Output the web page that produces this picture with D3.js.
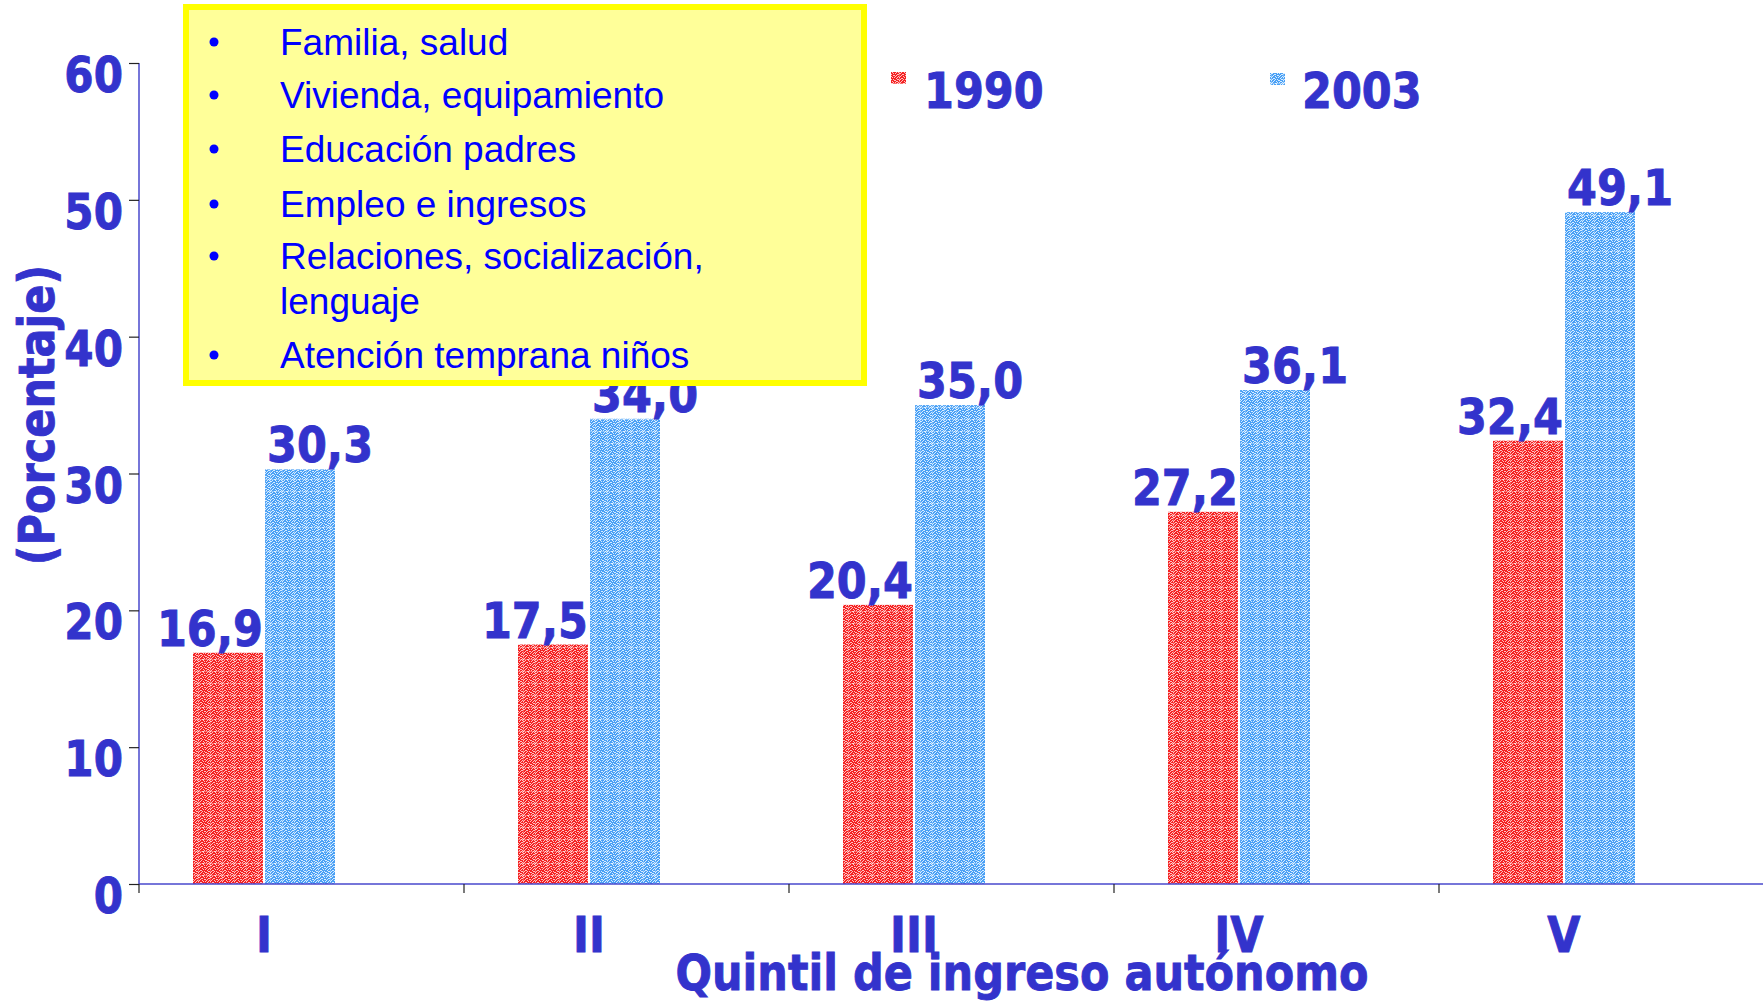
<!DOCTYPE html>
<html>
<head>
<meta charset="utf-8">
<script src="https://cdn.jsdelivr.net/npm/d3@7"></script>
<style>
  html, body { margin: 0; padding: 0; background: #ffffff; }
  svg { display: block; }
</style>
</head>
<body>
<svg id="chart" width="1763" height="1001"></svg>
<script>
// ---- data ----
const categories = ["I", "II", "III", "IV", "V"];
const seriesNames = ["1990", "2003"];
const values1990 = [16.9, 17.5, 20.4, 27.2, 32.4];
const values2003 = [30.3, 34.0, 35.0, 36.1, 49.1];
const yTickValues = [0, 10, 20, 30, 40, 50, 60];
const boxLines = [
  { bullet: true, text: "Familia, salud" },
  { bullet: true, text: "Vivienda, equipamiento" },
  { bullet: true, text: "Educación padres" },
  { bullet: true, text: "Empleo e ingresos" },
  { bullet: true, text: "Relaciones, socialización," },
  { bullet: false, text: "lenguaje" },
  { bullet: true, text: "Atención temprana niños" }
];
const xTitle = "Quintil de ingreso autónomo";
const yTitle = "(Porcentaje)";

// ---- styles ----
const LABEL_BLUE = "#3333cc";
const BOLD_FONT = "'DejaVu Sans', Verdana, sans-serif";
const SX = 0.86;

const svg = d3.select("#chart");

// speckle texture patterns for bars
const defs = svg.append("defs");
const speckle = [
  "010010001010",
  "100001010001",
  "001100000110",
  "010001101000",
  "100100010010",
  "000010100101",
  "011000001000",
  "100101000110",
  "001000110001",
  "010010001100",
  "100001010010",
  "000110000101"
];
function makePattern(id, base, light, line) {
  const p = defs.append("pattern").attr("id", id)
    .attr("patternUnits", "userSpaceOnUse").attr("width", 12).attr("height", 12);
  p.append("rect").attr("width", 12).attr("height", 12).attr("fill", base);
  speckle.forEach((row, r) => {
    row.split("").forEach((c, k) => {
      if (c === "1") p.append("rect").attr("x", k).attr("y", r).attr("width", 1).attr("height", 1).attr("fill", light);
    });
  });
  p.append("rect").attr("x", 0).attr("y", 11).attr("width", 12).attr("height", 1).attr("fill", line).attr("opacity", 0.35);
  p.append("rect").attr("x", 11).attr("y", 0).attr("width", 1).attr("height", 12).attr("fill", line).attr("opacity", 0.25);
}
makePattern("pat1990", "#f42222", "#ffc0c0", "#ffffff");
makePattern("pat2003", "#4aa0f5", "#d6ecff", "#ffffff");
const fills = { "1990": "url(#pat1990)", "2003": "url(#pat2003)" };

// ---- scales ----
const x = d3.scaleBand().domain(categories).range([139, 1764]).padding(0);
const inner = d3.scaleBand().domain(seriesNames).range([54, 196]).paddingInner(0.03);
const y = d3.scaleLinear().domain([0, 60]).range([884, 63]);

function stext(parent, px, py, str, size, anchor) {
  return parent.append("text")
    .attr("transform", `translate(${px},${py}) scale(${SX},1)`)
    .attr("text-anchor", anchor)
    .attr("font-family", BOLD_FONT)
    .attr("font-weight", "bold")
    .attr("font-size", size)
    .attr("fill", LABEL_BLUE)
    .attr("stroke", LABEL_BLUE)
    .attr("stroke-width", 0.9)
    .text(str);
}

// ---- bars ----
const data = categories.map((c, i) => ({ cat: c, vals: [
  { s: "1990", v: values1990[i] },
  { s: "2003", v: values2003[i] }
]}));

const groups = svg.append("g").selectAll("g").data(data).join("g")
  .attr("transform", d => `translate(${x(d.cat)},0)`);

groups.selectAll("rect").data(d => d.vals).join("rect")
  .attr("x", d => inner(d.s))
  .attr("y", d => y(d.v))
  .attr("width", inner.bandwidth())
  .attr("height", d => y(0) - y(d.v))
  .attr("fill", d => fills[d.s]);

// value labels
const fmt = v => d3.format(".1f")(v).replace(".", ",");
groups.each(function(d) {
  const g = d3.select(this);
  d.vals.forEach(vd => {
    const cx = inner(vd.s) + inner.bandwidth() / 2 + (vd.s === "1990" ? -18 : 20);
    stext(g, cx, y(vd.v) - 7, fmt(vd.v), 50, "middle");
  });
});

// ---- axes ----
const yAxis = svg.append("g").attr("transform", "translate(139,0)")
  .call(d3.axisLeft(y).tickValues(yTickValues).tickSize(10).tickFormat(""));
yAxis.select(".domain").attr("stroke", "#4848cc").attr("stroke-width", 1.5).attr("d", `M0,${y(60)}V${y(0)}`);
yAxis.selectAll(".tick line").attr("stroke", "#222").attr("stroke-width", 1.2);
yTickValues.forEach(t => {
  stext(svg, 123, y(t) + 29, String(t), 49, "end");
});

const xAxis = svg.append("g").attr("transform", `translate(0,${y(0)})`)
  .call(d3.axisBottom(x).tickSize(0).tickFormat(""));
xAxis.select(".domain").attr("stroke", "#4848cc").attr("stroke-width", 1.5).attr("d", "M139,0H1763");
xAxis.selectAll(".tick").remove();
// boundary tick marks between categories
const boundaries = categories.map(c => x(c) + x.step());
xAxis.selectAll("line.bt").data(boundaries).join("line").attr("class", "bt")
  .attr("x1", d => d).attr("x2", d => d).attr("y1", 0).attr("y2", 9)
  .attr("stroke", "#222").attr("stroke-width", 1.2);
xAxis.append("line").attr("x1", 139).attr("x2", 139).attr("y1", 0).attr("y2", 9)
  .attr("stroke", "#222").attr("stroke-width", 1.2);

// category labels
categories.forEach(c => {
  const cx = x(c) + (inner(seriesNames[0]) + inner(seriesNames[1]) + inner.bandwidth()) / 2;
  stext(svg, cx, 952, c, 50, "middle");
});

// axis titles
stext(svg, 1022, 990, xTitle, 50, "middle");
svg.append("text")
  .attr("transform", `translate(54,415) rotate(-90) scale(${SX},1)`)
  .attr("text-anchor", "middle")
  .attr("font-family", BOLD_FONT).attr("font-weight", "bold").attr("font-size", 50)
  .attr("fill", LABEL_BLUE).attr("stroke", LABEL_BLUE).attr("stroke-width", 0.9)
  .text(yTitle);

// ---- legend ----
const legendPos = [{ s: "1990", sq: 891, tx: 924, sy: 72 }, { s: "2003", sq: 1270, tx: 1302, sy: 73 }];
legendPos.forEach(l => {
  svg.append("rect").attr("x", l.sq).attr("y", l.sy).attr("width", 15).attr("height", 12).attr("fill", fills[l.s]);
  stext(svg, l.tx, 108, l.s, 50, "start");
});

// ---- yellow note box ----
const box = svg.append("g");
box.append("rect").attr("x", 186).attr("y", 7).attr("width", 678).attr("height", 376)
  .attr("fill", "#ffff99").attr("stroke", "#ffff00").attr("stroke-width", 6);
const lineBase = [55, 108, 162, 217, 269, 314, 368];
boxLines.forEach((l, i) => {
  if (l.bullet) {
    box.append("circle").attr("cx", 214).attr("cy", lineBase[i] - 13).attr("r", 4.5)
      .attr("fill", "#0000ff");
  }
  box.append("text").attr("x", 280).attr("y", lineBase[i])
    .attr("font-family", "'Liberation Sans', Arial, sans-serif").attr("font-size", 37)
    .attr("fill", "#0000ff").text(l.text);
});
</script>
</body>
</html>
